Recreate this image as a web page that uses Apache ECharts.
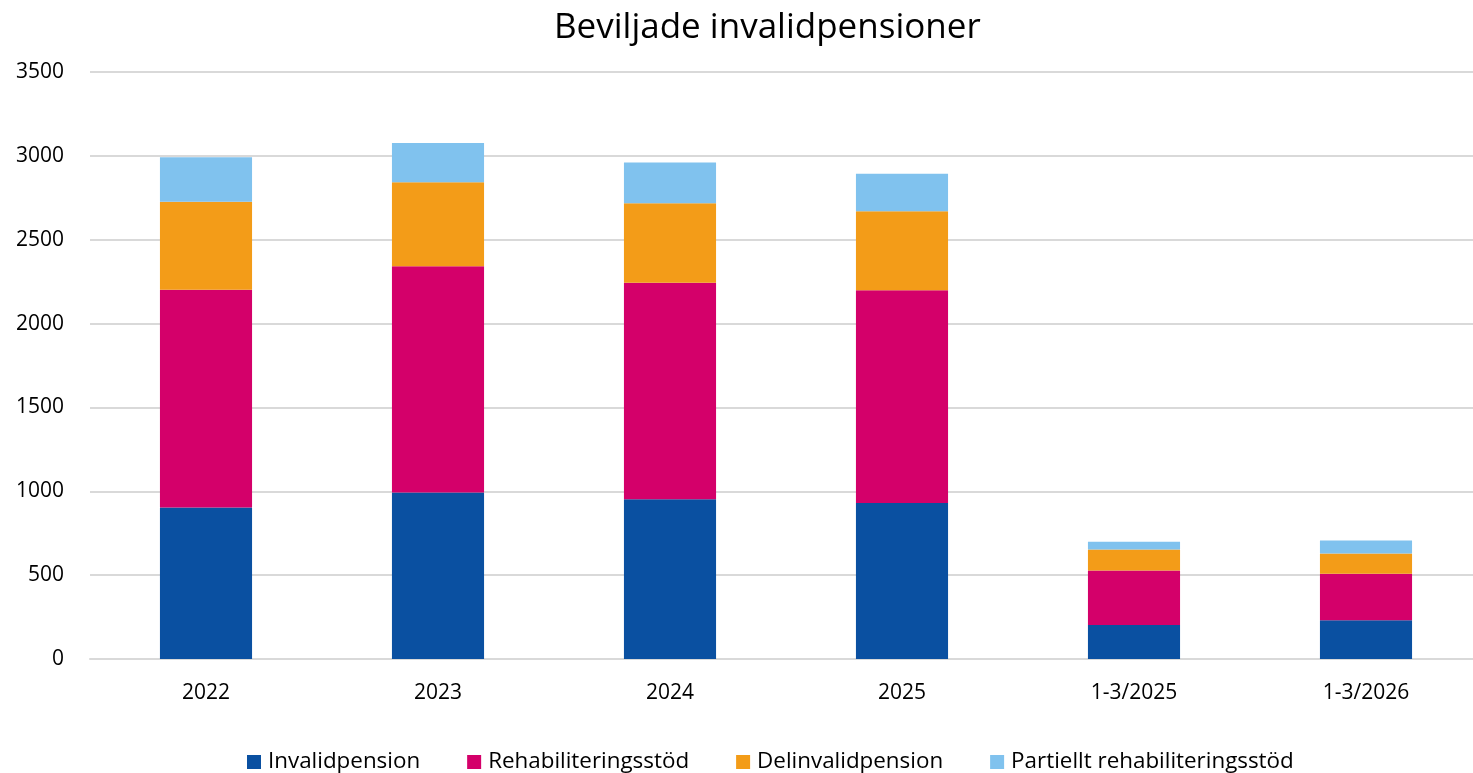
<!DOCTYPE html>
<html>
<head>
<meta charset="utf-8">
<script src="https://cdn.jsdelivr.net/npm/echarts@6/dist/echarts.min.js"></script>
<style>html,body{margin:0;padding:0;background:#fff;}#c{width:1473px;height:773px;}</style>
</head>
<body>
<div id="c"></div>
<script>
const categories = ['2022', '2023', '2024', '2025', '1-3/2025', '1-3/2026'];
const invalidpension = [904, 993, 952, 930, 203, 231];
const rehabilitering = [1298, 1349, 1292, 1269, 325, 277];
const delinvalid = [525, 501, 474, 471, 125, 121];
const partiellt = [265, 233, 242, 223, 46, 78];
const seriesNames = ['Invalidpension', 'Rehabiliteringsstöd', 'Delinvalidpension', 'Partiellt rehabiliteringsstöd'];
const colors = ['#0A50A1', '#D4006A', '#F39C18', '#80C2EE'];
const font = '"Open Sans", "Noto Sans", sans-serif';

const chart = echarts.init(document.getElementById('c'));
const dataSets = [invalidpension, rehabilitering, delinvalid, partiellt];
chart.setOption({
  animation: false,
  color: colors,
  title: {
    text: 'Beviljade invalidpensioner',
    left: 549,
    top: 6,
    textStyle: { fontFamily: font, fontSize: 35, fontWeight: 'normal', color: '#000' }
  },
  legend: {
    bottom: 0,
    left: 247,
    padding: 0,
    itemWidth: 14,
    itemHeight: 14,
    itemGap: 47,
    icon: 'rect',
    textStyle: { fontFamily: font, fontSize: 22.4, color: '#000', padding: [0, 0, 0, 2] },
    data: seriesNames
  },
  grid: { left: 90, top: 72, width: 1392, bottom: 114, containLabel: false, outerBoundsMode: 'none' },
  xAxis: {
    type: 'category',
    data: categories,
    axisLine: { lineStyle: { color: '#d9d9d9', width: 2 } },
    axisTick: { show: false },
    axisLabel: { fontFamily: font, fontSize: 21, color: '#000', margin: 24 }
  },
  yAxis: {
    type: 'value',
    min: 0,
    max: 3500,
    interval: 500,
    axisLine: { show: false },
    axisTick: { show: false },
    splitLine: { lineStyle: { color: '#d9d9d9', width: 2 } },
    axisLabel: { fontFamily: font, fontSize: 21, color: '#000', margin: 26, formatter: v => String(v) }
  },
  series: seriesNames.map((n, i) => ({
    name: n,
    type: 'bar',
    stack: 'total',
    barWidth: '39.7%',
    data: dataSets[i],
    itemStyle: { color: colors[i] }
  }))
});
</script>
</body>
</html>
